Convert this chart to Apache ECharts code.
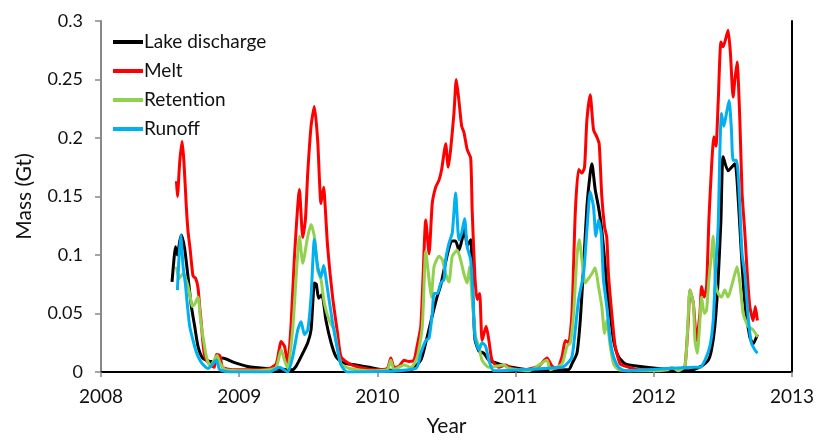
<!DOCTYPE html>
<html>
<head>
<meta charset="utf-8">
<script src="https://cdn.jsdelivr.net/npm/echarts@6/dist/echarts.min.js"></script>
<style>html,body{margin:0;padding:0;background:#fff}#c{width:817px;height:446px}</style>
</head>
<body>
<div id="c"></div>
<script>
const seriesNames = ['Lake discharge', 'Melt', 'Retention', 'Runoff'];
const xTicks = [2008, 2009, 2010, 2011, 2012, 2013];

const lakeT = [2008.514,2008.527,2008.539,2008.553,2008.570,2008.582,2008.606,2008.630,2008.654,2008.678,2008.702,2008.736,2008.790,2008.823,2008.880,2008.967,2009.053,2009.198,2009.385,2009.412,2009.460,2009.496,2009.520,2009.533,2009.544,2009.558,2009.575,2009.598,2009.628,2009.665,2009.701,2009.746,2009.845,2009.941,2010.035,2010.229,2010.314,2010.350,2010.397,2010.434,2010.458,2010.494,2010.518,2010.542,2010.566,2010.590,2010.610,2010.631,2010.650,2010.675,2010.691,2010.706,2010.734,2010.771,2010.807,2010.879,2010.973,2011.095,2011.384,2011.408,2011.444,2011.468,2011.492,2011.516,2011.540,2011.552,2011.576,2011.600,2011.624,2011.649,2011.660,2011.685,2011.709,2011.745,2011.793,2011.889,2012.033,2012.250,2012.346,2012.394,2012.418,2012.442,2012.466,2012.486,2012.502,2012.538,2012.587,2012.610,2012.634,2012.659,2012.695,2012.719,2012.750];
const lakeV = [0.077,0.095,0.107,0.100,0.112,0.117,0.105,0.081,0.056,0.039,0.022,0.012,0.009,0.009,0.012,0.008,0.005,0.003,0.002,0.005,0.016,0.025,0.036,0.060,0.076,0.075,0.063,0.066,0.044,0.025,0.013,0.008,0.006,0.004,0.002,0.001,0.010,0.025,0.048,0.065,0.074,0.094,0.106,0.112,0.112,0.104,0.112,0.122,0.108,0.113,0.065,0.028,0.018,0.016,0.010,0.007,0.004,0.002,0.002,0.007,0.016,0.044,0.090,0.141,0.170,0.178,0.156,0.141,0.121,0.090,0.073,0.050,0.027,0.013,0.007,0.005,0.003,0.001,0.005,0.010,0.019,0.039,0.079,0.130,0.184,0.172,0.178,0.150,0.101,0.059,0.030,0.024,0.032];

const meltT = [2008.546,2008.553,2008.570,2008.587,2008.600,2008.618,2008.630,2008.645,2008.666,2008.685,2008.702,2008.715,2008.727,2008.740,2008.755,2008.790,2008.820,2008.835,2008.860,2008.880,2008.950,2009.050,2009.150,2009.219,2009.268,2009.304,2009.328,2009.351,2009.376,2009.400,2009.436,2009.460,2009.479,2009.496,2009.520,2009.544,2009.568,2009.592,2009.611,2009.623,2009.640,2009.676,2009.712,2009.737,2009.797,2009.869,2009.977,2010.071,2010.097,2010.121,2010.157,2010.193,2010.229,2010.265,2010.289,2010.314,2010.330,2010.350,2010.374,2010.397,2010.422,2010.446,2010.465,2010.482,2010.494,2010.513,2010.530,2010.554,2010.571,2010.590,2010.610,2010.626,2010.650,2010.675,2010.686,2010.706,2010.722,2010.740,2010.758,2010.787,2010.807,2010.830,2010.879,2010.927,2010.973,2011.059,2011.167,2011.227,2011.263,2011.299,2011.336,2011.360,2011.384,2011.408,2011.432,2011.456,2011.480,2011.499,2011.516,2011.540,2011.564,2011.588,2011.605,2011.624,2011.644,2011.660,2011.672,2011.696,2011.721,2011.757,2011.793,2011.889,2012.033,2012.105,2012.201,2012.226,2012.250,2012.262,2012.286,2012.310,2012.334,2012.346,2012.365,2012.382,2012.399,2012.418,2012.435,2012.450,2012.466,2012.486,2012.502,2012.519,2012.538,2012.555,2012.574,2012.587,2012.603,2012.623,2012.639,2012.659,2012.675,2012.695,2012.719,2012.735,2012.750];
const meltV = [0.163,0.150,0.180,0.197,0.180,0.140,0.120,0.105,0.082,0.080,0.072,0.055,0.040,0.022,0.012,0.006,0.004,0.015,0.014,0.004,0.002,0.002,0.002,0.003,0.007,0.026,0.022,0.007,0.042,0.099,0.156,0.115,0.130,0.170,0.210,0.227,0.198,0.144,0.158,0.140,0.107,0.064,0.033,0.013,0.007,0.004,0.002,0.003,0.012,0.004,0.005,0.010,0.009,0.010,0.023,0.039,0.080,0.130,0.101,0.144,0.158,0.164,0.173,0.187,0.195,0.175,0.190,0.221,0.250,0.232,0.210,0.205,0.190,0.183,0.138,0.081,0.062,0.067,0.027,0.039,0.027,0.010,0.004,0.006,0.003,0.002,0.005,0.012,0.005,0.003,0.013,0.027,0.025,0.050,0.136,0.173,0.170,0.175,0.215,0.237,0.207,0.201,0.195,0.150,0.124,0.115,0.084,0.050,0.022,0.007,0.005,0.002,0.002,0.003,0.003,0.005,0.044,0.070,0.059,0.027,0.050,0.073,0.064,0.073,0.130,0.175,0.201,0.193,0.230,0.282,0.278,0.284,0.292,0.272,0.235,0.250,0.265,0.215,0.153,0.119,0.087,0.056,0.044,0.056,0.044];

const retT = [2008.546,2008.565,2008.594,2008.615,2008.642,2008.660,2008.678,2008.702,2008.720,2008.738,2008.763,2008.790,2008.840,2008.860,2008.900,2009.100,2009.219,2009.268,2009.304,2009.328,2009.351,2009.387,2009.412,2009.436,2009.460,2009.496,2009.520,2009.544,2009.568,2009.592,2009.616,2009.652,2009.688,2009.712,2009.737,2009.797,2009.941,2010.071,2010.097,2010.121,2010.193,2010.244,2010.289,2010.325,2010.350,2010.374,2010.390,2010.410,2010.446,2010.470,2010.494,2010.518,2010.542,2010.578,2010.602,2010.626,2010.650,2010.667,2010.686,2010.711,2010.734,2010.758,2010.807,2010.915,2010.951,2011.095,2011.227,2011.252,2011.336,2011.372,2011.396,2011.420,2011.444,2011.461,2011.480,2011.504,2011.528,2011.552,2011.576,2011.600,2011.624,2011.644,2011.660,2011.685,2011.709,2011.745,2011.950,2012.105,2012.129,2012.177,2012.226,2012.250,2012.262,2012.286,2012.298,2012.315,2012.334,2012.346,2012.365,2012.382,2012.399,2012.418,2012.430,2012.447,2012.466,2012.490,2012.514,2012.538,2012.562,2012.587,2012.603,2012.623,2012.647,2012.683,2012.719,2012.750];
const retV = [0.090,0.080,0.084,0.079,0.067,0.056,0.058,0.064,0.045,0.030,0.013,0.005,0.014,0.008,0.002,0.001,0.002,0.004,0.019,0.010,0.003,0.036,0.081,0.116,0.093,0.116,0.126,0.116,0.087,0.079,0.059,0.044,0.036,0.019,0.007,0.003,0.001,0.002,0.010,0.002,0.006,0.004,0.013,0.039,0.103,0.079,0.064,0.090,0.099,0.096,0.084,0.077,0.099,0.104,0.096,0.084,0.076,0.090,0.062,0.030,0.022,0.010,0.004,0.006,0.003,0.001,0.010,0.002,0.007,0.022,0.025,0.050,0.099,0.113,0.096,0.076,0.080,0.084,0.089,0.073,0.056,0.033,0.044,0.022,0.007,0.002,0.001,0.002,0.004,0.001,0.005,0.050,0.070,0.059,0.027,0.016,0.044,0.064,0.050,0.053,0.079,0.101,0.116,0.076,0.067,0.064,0.070,0.064,0.073,0.084,0.090,0.076,0.050,0.039,0.036,0.030];

const runT = [2008.553,2008.563,2008.577,2008.594,2008.611,2008.626,2008.642,2008.666,2008.690,2008.727,2008.774,2008.835,2008.859,2008.930,2009.219,2009.291,2009.351,2009.387,2009.424,2009.448,2009.472,2009.496,2009.520,2009.544,2009.568,2009.592,2009.611,2009.640,2009.676,2009.712,2009.737,2009.782,2010.278,2010.314,2010.350,2010.374,2010.397,2010.410,2010.434,2010.458,2010.482,2010.494,2010.518,2010.542,2010.566,2010.590,2010.610,2010.631,2010.650,2010.675,2010.691,2010.706,2010.734,2010.758,2010.783,2010.807,2010.843,2011.336,2011.372,2011.408,2011.432,2011.456,2011.492,2011.516,2011.540,2011.564,2011.581,2011.600,2011.620,2011.636,2011.660,2011.685,2011.709,2011.745,2011.793,2012.298,2012.334,2012.370,2012.406,2012.430,2012.447,2012.466,2012.478,2012.490,2012.507,2012.526,2012.545,2012.562,2012.574,2012.598,2012.610,2012.623,2012.639,2012.659,2012.683,2012.706,2012.731,2012.750];
const runV = [0.070,0.095,0.117,0.090,0.075,0.056,0.039,0.027,0.017,0.008,0.003,0.010,0.002,0.000,0.000,0.004,0.000,0.013,0.036,0.043,0.032,0.036,0.064,0.113,0.090,0.081,0.091,0.070,0.042,0.019,0.006,0.000,0.003,0.016,0.027,0.029,0.050,0.067,0.067,0.076,0.079,0.096,0.110,0.119,0.153,0.113,0.119,0.131,0.107,0.096,0.067,0.030,0.019,0.025,0.022,0.010,0.001,0.004,0.007,0.013,0.036,0.062,0.084,0.121,0.154,0.141,0.116,0.130,0.118,0.079,0.056,0.027,0.013,0.004,0.001,0.004,0.004,0.010,0.022,0.044,0.087,0.124,0.187,0.221,0.210,0.221,0.232,0.207,0.181,0.181,0.170,0.141,0.101,0.084,0.047,0.025,0.019,0.016];

const colors = ['#000000', '#ff0000', '#92d050', '#00b0f0'];
const zip = (t, v) => t.map((x, i) => [x, v[i]]);
const allData = [zip(lakeT, lakeV), zip(meltT, meltV), zip(retT, retV), zip(runT, runV)];

const font = 'Lato, "Open Sans", sans-serif';
const chart = echarts.init(document.getElementById('c'), null, {renderer: 'canvas'});
chart.setOption({
  animation: false,
  backgroundColor: '#fff',
  grid: {left: 101, right: 23, top: 21, bottom: 74, containLabel: false},
  legend: {
    orient: 'vertical', left: 108, top: 26, itemGap: 7,
    itemWidth: 30, itemHeight: 4, icon: 'rect',
    textStyle: {fontFamily: font, fontSize: 19, color: '#111', lineHeight: 22, padding: [0, 0, 0, -4]},
    data: seriesNames
  },
  xAxis: [{
    type: 'value', min: xTicks[0], max: xTicks[xTicks.length - 1], interval: 1,
    name: 'Year', nameLocation: 'middle', nameGap: 44,
    nameTextStyle: {fontFamily: font, fontSize: 21, color: '#111'},
    axisLine: {onZero: false, lineStyle: {color: '#888', width: 2}},
    axisTick: {show: true, length: 5, lineStyle: {color: '#888', width: 1.5}},
    axisLabel: {fontFamily: font, fontSize: 19, color: '#111', margin: 15, formatter: v => String(v)},
    splitLine: {show: false}
  }, {
    type: 'value', position: 'top', min: 2008, max: 2013,
    axisLine: {show: true, lineStyle: {color: '#000', width: 2}},
    axisTick: {show: false}, axisLabel: {show: false}, splitLine: {show: false}
  }],
  yAxis: [{
    type: 'value', min: 0, max: 0.3, interval: 0.05,
    name: 'Mass (Gt)', nameLocation: 'middle', nameGap: 66,
    nameTextStyle: {fontFamily: font, fontSize: 21, color: '#111'},
    axisLine: {show: true, onZero: false, lineStyle: {color: '#888', width: 2}},
    axisTick: {show: true, length: 6, lineStyle: {color: '#888', width: 1.5}},
    axisLabel: {fontFamily: font, fontSize: 18, color: '#111', margin: 18},
    splitLine: {show: false}
  }, {
    type: 'value', position: 'right', min: 0, max: 0.3,
    axisLine: {show: true, lineStyle: {color: '#000', width: 2}},
    axisTick: {show: false}, axisLabel: {show: false}, splitLine: {show: false}
  }],
  series: allData.map((d, i) => ({
    name: seriesNames[i], type: 'line', data: d, xAxisIndex: 0, yAxisIndex: 0,
    showSymbol: false, symbol: 'none', smooth: 0.2,
    lineStyle: {color: colors[i], width: 3, join: 'round'},
    itemStyle: {color: colors[i]}
  }))
});
</script>
</body>
</html>
